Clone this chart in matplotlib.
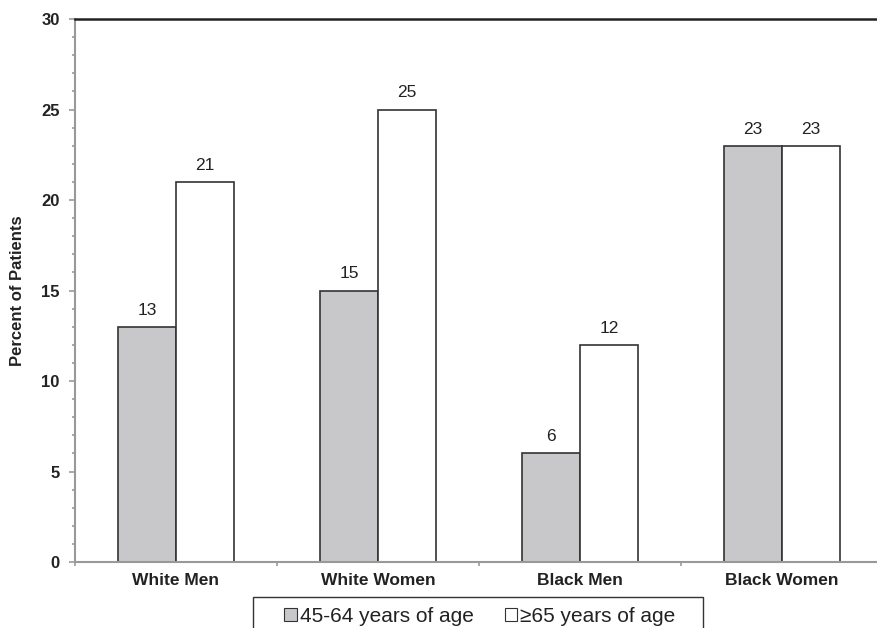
import numpy as np
import matplotlib
matplotlib.use("Agg")
import matplotlib.pyplot as plt
from matplotlib.patches import Rectangle
from matplotlib.ticker import MultipleLocator, FixedLocator

groups = ["White Men", "White Women", "Black Men", "Black Women"]
age_45_64 = [13, 15, 6, 23]
age_65_up = [21, 25, 12, 23]
series_names = ["45-64 years of age", "\u226565 years of age"]

plt.rcParams['font.family'] = ['Liberation Sans', 'DejaVu Sans']

fig = plt.figure(figsize=(8.77, 6.28), dpi=100)
ax = fig.add_axes([0.0855, 0.1051, 0.9213, 0.8646])

x = np.arange(len(groups))
w = 0.287
b1 = ax.bar(x - w / 2, age_45_64, w, color="#c8c8ca", edgecolor="#333333", linewidth=1.2, label=series_names[0])
b2 = ax.bar(x + w / 2, age_65_up, w, color="white", edgecolor="#333333", linewidth=1.2, label=series_names[1])

for bars in (b1, b2):
    for r in bars:
        ax.annotate(f"{r.get_height():g}", (r.get_x() + r.get_width() / 2, r.get_height()),
                    xytext=(0, 6.5), textcoords="offset points", ha="center", va="bottom",
                    fontsize=12.5, color="#222222")

ax.set_xlim(-0.5, 3.5)
ax.set_ylim(0, 30)
ax.yaxis.set_major_locator(MultipleLocator(5))
ax.yaxis.set_minor_locator(MultipleLocator(1))
ax.set_xticks(x)
ax.set_xticklabels(groups, fontweight="bold", fontsize=12.5, color="#222222")
ax.xaxis.set_minor_locator(FixedLocator([-0.5, 0.5, 1.5, 2.5, 3.5]))
ax.tick_params(axis="x", which="major", length=0, pad=8)
ax.tick_params(axis="x", which="minor", length=3, color="#999999", width=1.2)
ax.tick_params(axis="y", which="major", length=4, color="#999999", width=1.2, labelsize=12, pad=7)
ax.tick_params(axis="y", which="minor", length=2.5, color="#999999", width=1.2)
for lab in ax.get_yticklabels():
    lab.set_fontweight("bold")
    lab.set_color("#222222")
ax.set_ylabel("Percent of Patients", fontweight="bold", fontsize=12, color="#222222", labelpad=12)

ax.spines["left"].set_color("#999999")
ax.spines["left"].set_linewidth(1.5)
ax.spines["bottom"].set_color("#999999")
ax.spines["bottom"].set_linewidth(1.5)
ax.spines["top"].set_color("#222222")
ax.spines["top"].set_linewidth(1.8)
ax.spines["right"].set_visible(False)

# legend box, cut off by the bottom of the figure as in the original
fig.patches.append(Rectangle((253 / 877, -0.05), 450 / 877, 0.05 + 31 / 628,
                             transform=fig.transFigure, facecolor="white",
                             edgecolor="#333333", linewidth=1.0))
leg = fig.legend(handles=[b1, b2], loc="upper left", bbox_to_anchor=(284 / 877, 21 / 628),
                 ncol=2, frameon=False, fontsize=15, handlelength=0.6, handleheight=0.6,
                 handletextpad=0.15, columnspacing=1.5, borderpad=0, borderaxespad=0,
                 labelcolor="#222222")
for h in leg.legend_handles:
    h.set_linewidth(0.8)

fig.savefig("out.png", dpi=100)
